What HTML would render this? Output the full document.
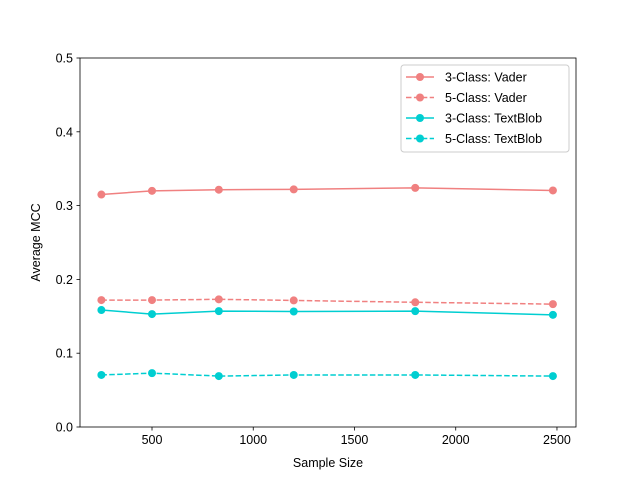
<!DOCTYPE html>
<html><head><meta charset="utf-8"><style>body{margin:0;background:#fff}svg{font-family:"Liberation Sans","DejaVu Sans",sans-serif}</style></head>
<body>
<svg id="c" width="640" height="480" xmlns="http://www.w3.org/2000/svg"></svg>
<script>
const xs = [250, 500, 830, 1200, 1800, 2480];
const vader3 = [0.315, 0.320, 0.3215, 0.322, 0.324, 0.3205];
const vader5 = [0.172, 0.172, 0.173, 0.1715, 0.169, 0.1665];
const tb3 = [0.1585, 0.153, 0.157, 0.1565, 0.157, 0.152];
const tb5 = [0.0705, 0.073, 0.069, 0.0705, 0.0705, 0.069];
const xTicks = [500, 1000, 1500, 2000, 2500];
const yTicks = [0, 0.1, 0.2, 0.3, 0.4, 0.5];
const seriesNames = ["3-Class: Vader", "5-Class: Vader", "3-Class: TextBlob", "5-Class: TextBlob"];

const L=80,R=576,T=58,B=427,xmin=144.4,xmax=2594,ymin=0,ymax=0.5;
const X=v=>L+(v-xmin)/(xmax-xmin)*(R-L);
const Y=v=>B-(v-ymin)/(ymax-ymin)*(B-T);
const svg=document.getElementById('c');
const NS='http://www.w3.org/2000/svg';
function mk(tag,attrs,parent){const e=document.createElementNS(NS,tag);for(const k in attrs)e.setAttribute(k,attrs[k]);(parent||svg).appendChild(e);return e;}

const series=[
 {d:vader3,c:'#f08080',dash:null,n:'vader-3class'},
 {d:vader5,c:'#f08080',dash:'5.5,2.4',n:'vader-5class'},
 {d:tb3,c:'#00ced1',dash:null,n:'textblob-3class'},
 {d:tb5,c:'#00ced1',dash:'5.5,2.4',n:'textblob-5class'}];
series.forEach(s=>{
 const g=mk('g',{});
 
 
 const p=mk('polyline',{points:s.d.map((v,i)=>X(xs[i])+','+Y(v)).join(' '),fill:'none',stroke:s.c,'stroke-width':1.5},g);
 if(s.dash)p.setAttribute('stroke-dasharray',s.dash);
 
 
 s.d.forEach((v,i)=>{const c=mk('circle',{cx:X(xs[i]),cy:Y(v),r:4,fill:s.c},g);
  
  });
});
const frame=mk('rect',{x:L,y:T,width:R-L,height:B-T,fill:'none',stroke:'#000','stroke-width':0.8});


xTicks.forEach(t=>{const x=X(t);mk('line',{x1:x,x2:x,y1:B,y2:B+3.5,stroke:'#000','stroke-width':0.8});
 const tx=mk('text',{x:x,y:B+17,'font-size':12.5,'text-anchor':'middle'});tx.textContent=t;
 
 });
yTicks.forEach(t=>{const y=Y(t);mk('line',{x1:L,x2:L-3.5,y1:y,y2:y,stroke:'#000','stroke-width':0.8});
 const tx=mk('text',{x:L-7,y:y+4.5,'font-size':12.5,'text-anchor':'end'});tx.textContent=t.toFixed(1);
 
 });
const xt=mk('text',{x:(L+R)/2,y:467,'font-size':12.5,'text-anchor':'middle'});xt.textContent='Sample Size';


const yt=mk('text',{x:0,y:0,'font-size':12.5,'text-anchor':'middle',transform:'translate(40,'+((T+B)/2)+') rotate(-90)'});yt.textContent='Average MCC';


const lg=mk('g',{});


mk('rect',{x:401,y:65,width:168,height:87,rx:3,fill:'#fff','fill-opacity':0.8,stroke:'#ccc'},lg);
series.forEach((s,i)=>{const y=77+i*20.5;
 const l=mk('line',{x1:406,x2:434,y1:y,y2:y,stroke:s.c,'stroke-width':1.5},lg);if(s.dash)l.setAttribute('stroke-dasharray',s.dash);
 mk('circle',{cx:420,cy:y,r:4,fill:s.c},lg);
 const t=mk('text',{x:445,y:y+4.5,'font-size':12.5},lg);t.textContent=seriesNames[i];
 
 });
</script>
</body></html>
